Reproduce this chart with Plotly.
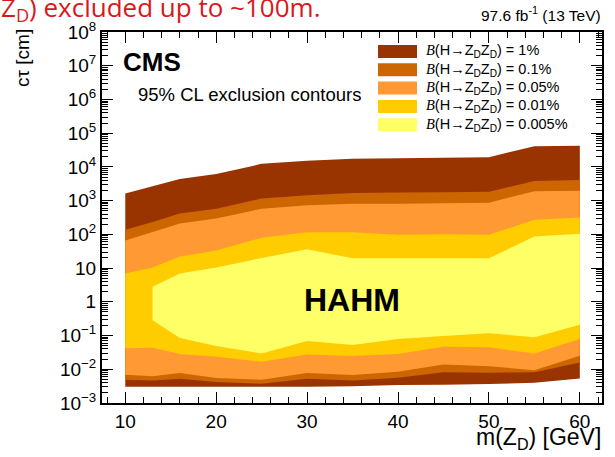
import plotly.graph_objects as go

# m(Z_D) grid [GeV]
masses = [10, 13, 16, 20, 25, 30, 35, 40, 45, 50, 55, 60]

# log10(c*tau [cm]) of the excluded-region boundaries, per branching fraction
br_labels = ["1%", "0.1%", "0.05%", "0.01%", "0.005%"]
br_colors = ["#993300", "#cc6600", "#ff9933", "#ffcc00", "#ffff66"]

upper_1 = [3.21, 3.43, 3.64, 3.79, 4.09, 4.18, 4.24, 4.26, 4.27, 4.29, 4.61, 4.63]
lower_1 = [-2.52, -2.52, -2.52, -2.52, -2.52, -2.52, -2.50, -2.47, -2.46, -2.44, -2.40, -2.27]

upper_01 = [2.14, 2.37, 2.62, 2.76, 3.06, 3.16, 3.23, 3.24, 3.25, 3.26, 3.58, 3.61]
lower_01 = [-2.31, -2.33, -2.28, -2.38, -2.43, -2.28, -2.33, -2.25, -2.09, -2.10, -2.09, -1.80]

upper_005 = [1.82, 2.07, 2.32, 2.47, 2.76, 2.86, 2.91, 2.91, 2.92, 2.94, 3.28, 3.29]
lower_005 = [-2.16, -2.21, -2.11, -2.26, -2.31, -2.11, -2.17, -2.07, -1.86, -1.91, -2.03, -1.60]

upper_001 = [0.84, 1.02, 1.34, 1.52, 1.90, 2.06, 2.06, 1.99, 2.00, 1.99, 2.43, 2.50]
lower_001 = [-1.38, -1.36, -1.55, -1.63, -1.78, -1.56, -1.61, -1.55, -1.33, -1.35, -1.53, -1.10]

masses_0005 = [13, 16, 20, 25, 30, 35, 40, 45, 50, 55, 60]
upper_0005 = [0.45, 0.84, 1.02, 1.30, 1.56, 1.29, 1.29, 1.29, 1.29, 1.94, 2.02]
lower_0005 = [-0.55, -1.07, -1.31, -1.53, -1.16, -1.28, -1.10, -1.01, -0.93, -1.05, -0.68]

regions = [
    (masses, upper_1, lower_1),
    (masses, upper_01, lower_01),
    (masses, upper_005, lower_005),
    (masses, upper_001, lower_001),
    (masses_0005, upper_0005, lower_0005),
]

y_tickvals = [1e-3, 1e-2, 1e-1, 1, 10, 1e2, 1e3, 1e4, 1e5, 1e6, 1e7, 1e8]
y_ticktext = ["10<sup>\u22123</sup>", "10<sup>\u22122</sup>", "10<sup>\u22121</sup>", "1", "10",
              "10<sup>2</sup>", "10<sup>3</sup>", "10<sup>4</sup>", "10<sup>5</sup>",
              "10<sup>6</sup>", "10<sup>7</sup>", "10<sup>8</sup>"]
x_tickvals = [10, 20, 30, 40, 50, 60]

FONT = "Liberation Sans, Arial, sans-serif"

def px_x(p):
    return (p - 102) / 500.0

def px_y(p):
    return (403 - p) / 371.0

def br_text(lab):
    return ("<span style=\"font-family:'Liberation Serif'\"><i>B</i></span>(H\u2192Z<sub>D</sub>Z<sub>D</sub>) = "
            + lab)

fig = go.Figure()
for (mx, up, lo), lab, col in zip(regions, br_labels, br_colors):
    xs = list(mx) + list(mx)[::-1]
    ys = [10 ** v for v in up] + [10 ** v for v in lo][::-1]
    fig.add_trace(go.Scatter(x=xs, y=ys, fill="toself", fillcolor=col, mode="none",
                             line=dict(width=0), name=br_text(lab), hoverinfo="skip",
                             showlegend=False))

fig.update_layout(
    width=615, height=457,
    margin=dict(l=102, r=13, t=32, b=54),
    paper_bgcolor="white", plot_bgcolor="white",
    font=dict(family=FONT, color="black"),
    showlegend=False,
)

fig.update_xaxes(
    type="linear", range=[7.44, 62.44],
    tickvals=x_tickvals, ticks="inside", ticklen=11, tickwidth=1, tickcolor="black",
    minor=dict(ticks="inside", dtick=2, tick0=0, ticklen=6, tickcolor="black"),
    showline=True, linecolor="black", linewidth=2, mirror="ticks",
    showgrid=False, zeroline=False,
    tickfont=dict(size=19, family=FONT),
)
fig.update_yaxes(
    type="log", range=[-3, 8],
    tickvals=y_tickvals, ticktext=y_ticktext,
    ticks="inside", ticklen=11, tickwidth=1, tickcolor="black",
    minor=dict(ticks="inside", dtick="D1", ticklen=6, tickcolor="black"),
    showline=True, linecolor="black", linewidth=2, mirror="ticks",
    showgrid=False, zeroline=False,
    tickfont=dict(size=19, family=FONT),
)

# legend (drawn as swatches + labels)
shapes = []
ann = []
for i, (lab, col) in enumerate(zip(br_labels, br_colors)):
    yc = 51.5 + i * 18.3
    shapes.append(dict(type="rect", xref="paper", yref="paper",
                       x0=px_x(378), x1=px_x(417), y0=px_y(yc + 6.5), y1=px_y(yc - 6.5),
                       fillcolor=col, line=dict(width=0), layer="above"))
    ann.append(dict(text=br_text(lab), x=px_x(424), y=px_y(yc), xanchor="left", yanchor="middle",
                    font=dict(size=14.5, family=FONT)))

ann += [
    dict(text="<b>CMS</b>", x=px_x(121), y=px_y(62), xanchor="left", yanchor="middle",
         font=dict(size=26, family=FONT)),
    dict(text="95% CL exclusion contours", x=px_x(136), y=px_y(94), xanchor="left", yanchor="middle",
         font=dict(size=18.5, family=FONT)),
    dict(text="<b>HAHM</b>", x=px_x(352), y=px_y(300), xanchor="center", yanchor="middle",
         font=dict(size=32, family=FONT)),
    dict(text="97.6 fb<sup>-1</sup> (13 TeV)", x=px_x(603), y=px_y(14), xanchor="right", yanchor="middle",
         font=dict(size=15.5, family=FONT)),
    dict(text="c\u03c4 [cm]", x=px_x(22), y=px_y(27), xanchor="center", yanchor="top", textangle=-90,
         font=dict(size=19, family=FONT)),
    dict(text="m(Z<sub>D</sub>) [GeV]", x=px_x(603), y=px_y(439), xanchor="right", yanchor="middle",
         font=dict(size=23, family=FONT)),
    dict(text="Z<sub>D</sub>) excluded up to ~100m.", x=px_x(-1), y=px_y(8), xanchor="left",
         yanchor="middle", font=dict(size=26, family="Open Sans, sans-serif", color="#d7191c")),
]
for a in ann:
    a.update(xref="paper", yref="paper", showarrow=False)
fig.update_layout(annotations=ann, shapes=shapes)

fig.write_html("out.html")
